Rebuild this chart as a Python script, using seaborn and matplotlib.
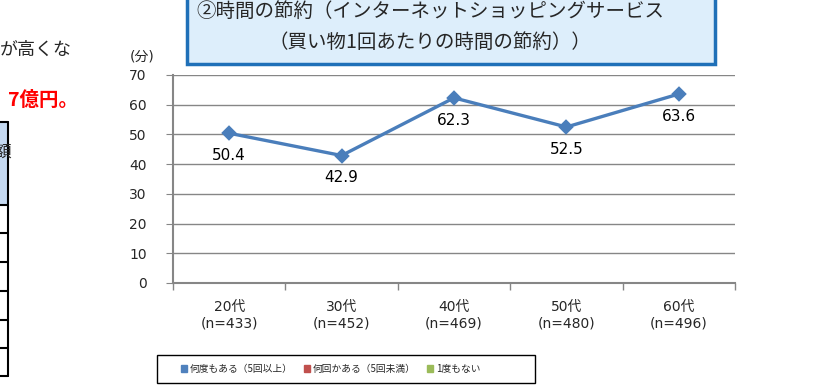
import matplotlib
matplotlib.use("Agg")
import matplotlib.pyplot as plt
from matplotlib.patches import Rectangle, Patch
from matplotlib.lines import Line2D
import seaborn as sns
import numpy as np

# =========================
# DATA
# =========================

ages = ["20代\n(n=433)", "30代\n(n=452)", "40代\n(n=469)", "50代\n(n=480)", "60代\n(n=496)"]
minutes = [50.4, 42.9, 62.3, 52.5, 63.6]
y_ticks = [0, 10, 20, 30, 40, 50, 60, 70]

legend_labels = ["何度もある（5回以上）", "何回かある（5回未満）", "1度もない"]
legend_colors = ["#4F81BD", "#C0504D", "#9BBB59"]

title_line1 = "②時間の節約（インターネットショッピングサービス"
title_line2 = "（買い物1回あたりの時間の節約））"

# =========================
# STYLE
# =========================

sns.set_style("white")
plt.rcParams['font.family'] = ['DejaVu Sans', 'Noto Sans CJK JP']

W, H = 832, 392
fig = plt.figure(figsize=(W / 100, H / 100), dpi=100)

def fx(px):
    return px / W

def fy(py):
    return 1 - py / H

ax = fig.add_axes([fx(173), fy(283), fx(735) - fx(173), fy(75) - fy(283)])

grey = "#868686"

# =========================
# LINE CHART
# =========================

sns.pointplot(
    x=ages,
    y=minutes,
    color="#4A7EBB",
    markers="D",
    linestyles="-",
    errorbar=None,
    markersize=6.5,
    linewidth=2.4,
    ax=ax
)

for i, v in enumerate(minutes):
    ax.annotate(
        f"{v}",
        (i, v),
        xytext=(0, -16),
        textcoords="offset points",
        ha="center",
        va="center",
        fontsize=11,
        color="black"
    )

ax.set_ylim(0, 70)
ax.set_xlim(-0.5, len(ages) - 0.5)
ax.set_yticks(y_ticks)
ax.set_xticks(np.arange(len(ages)))
ax.set_xticklabels(ages, fontsize=10, linespacing=1.3)
ax.set_xticks(np.arange(-0.5, len(ages)), minor=True)
ax.set_xlabel("")
ax.set_ylabel("")

ax.yaxis.grid(True, color=grey, linewidth=1)
ax.xaxis.grid(False)
ax.set_axisbelow(True)

for s in ["top", "right"]:
    ax.spines[s].set_visible(False)
for s in ["left", "bottom"]:
    ax.spines[s].set_color(grey)
    ax.spines[s].set_linewidth(1.5)

ax.tick_params(axis="y", which="major", left=True, length=5, color=grey,
               labelsize=10, pad=14)
ax.tick_params(axis="x", which="major", bottom=True, length=0, pad=12)
ax.tick_params(axis="x", which="minor", bottom=True, length=5, color=grey, width=1)

fig.text(fx(142), fy(57), "(分)", fontsize=10, ha="center", va="center")

# =========================
# TITLE BOX
# =========================

fig.patches.append(Rectangle((fx(187), fy(64)), fx(715) - fx(187), fy(-20) - fy(64),
                             transform=fig.transFigure, facecolor="#DDEEFB",
                             edgecolor="#1F70B8", linewidth=2.5, zorder=5))
fig.text(fx(430), fy(11), title_line1, fontsize=14, ha="center", va="center",
         family=['Noto Sans CJK JP'], zorder=6)
fig.text(fx(430), fy(42), title_line2, fontsize=14, ha="center", va="center",
         family=['Noto Sans CJK JP'], zorder=6)

# =========================
# LEGEND
# =========================

handles = [Patch(facecolor=c, edgecolor=c) for c in legend_colors]
fig.legend(handles, legend_labels, loc="center left",
           bbox_to_anchor=(fx(172), fy(369)), ncol=3, frameon=False,
           prop={'family': ['Noto Sans CJK JP'], 'size': 7},
           handlelength=0.6, handleheight=0.6, handletextpad=0.3,
           columnspacing=1.2)
fig.patches.append(Rectangle((fx(157), fy(383)), fx(535) - fx(157), fy(355) - fy(383),
                             transform=fig.transFigure, facecolor="none",
                             edgecolor="black", linewidth=1))

# =========================
# SURROUNDING PAGE TEXT
# =========================

fig.text(fx(0), fy(50), "が高くな", fontsize=13, ha="left", va="center",
         family=['Noto Sans CJK JP'])
fig.text(fx(78), fy(100), "7億円。", fontsize=14, ha="right", va="center",
         color="#FF0000", fontweight="bold", family=['Noto Sans CJK JP'])

fig.patches.append(Rectangle((fx(-5), fy(205)), fx(13), fy(122) - fy(205),
                             transform=fig.transFigure, facecolor="#C5D9F1",
                             edgecolor="none"))
fig.text(fx(3), fy(152), "額", fontsize=12, ha="center", va="center",
         family=['Noto Sans CJK JP'])
for y in [122, 205, 233, 262, 291, 320, 348, 376]:
    fig.lines.append(Line2D([fx(0), fx(8)], [fy(y), fy(y)], transform=fig.transFigure,
                            color="black", linewidth=1.5))
fig.lines.append(Line2D([fx(8), fx(8)], [fy(122), fy(376)], transform=fig.transFigure,
                        color="black", linewidth=1.5))

fig.savefig("out.png", dpi=100)
